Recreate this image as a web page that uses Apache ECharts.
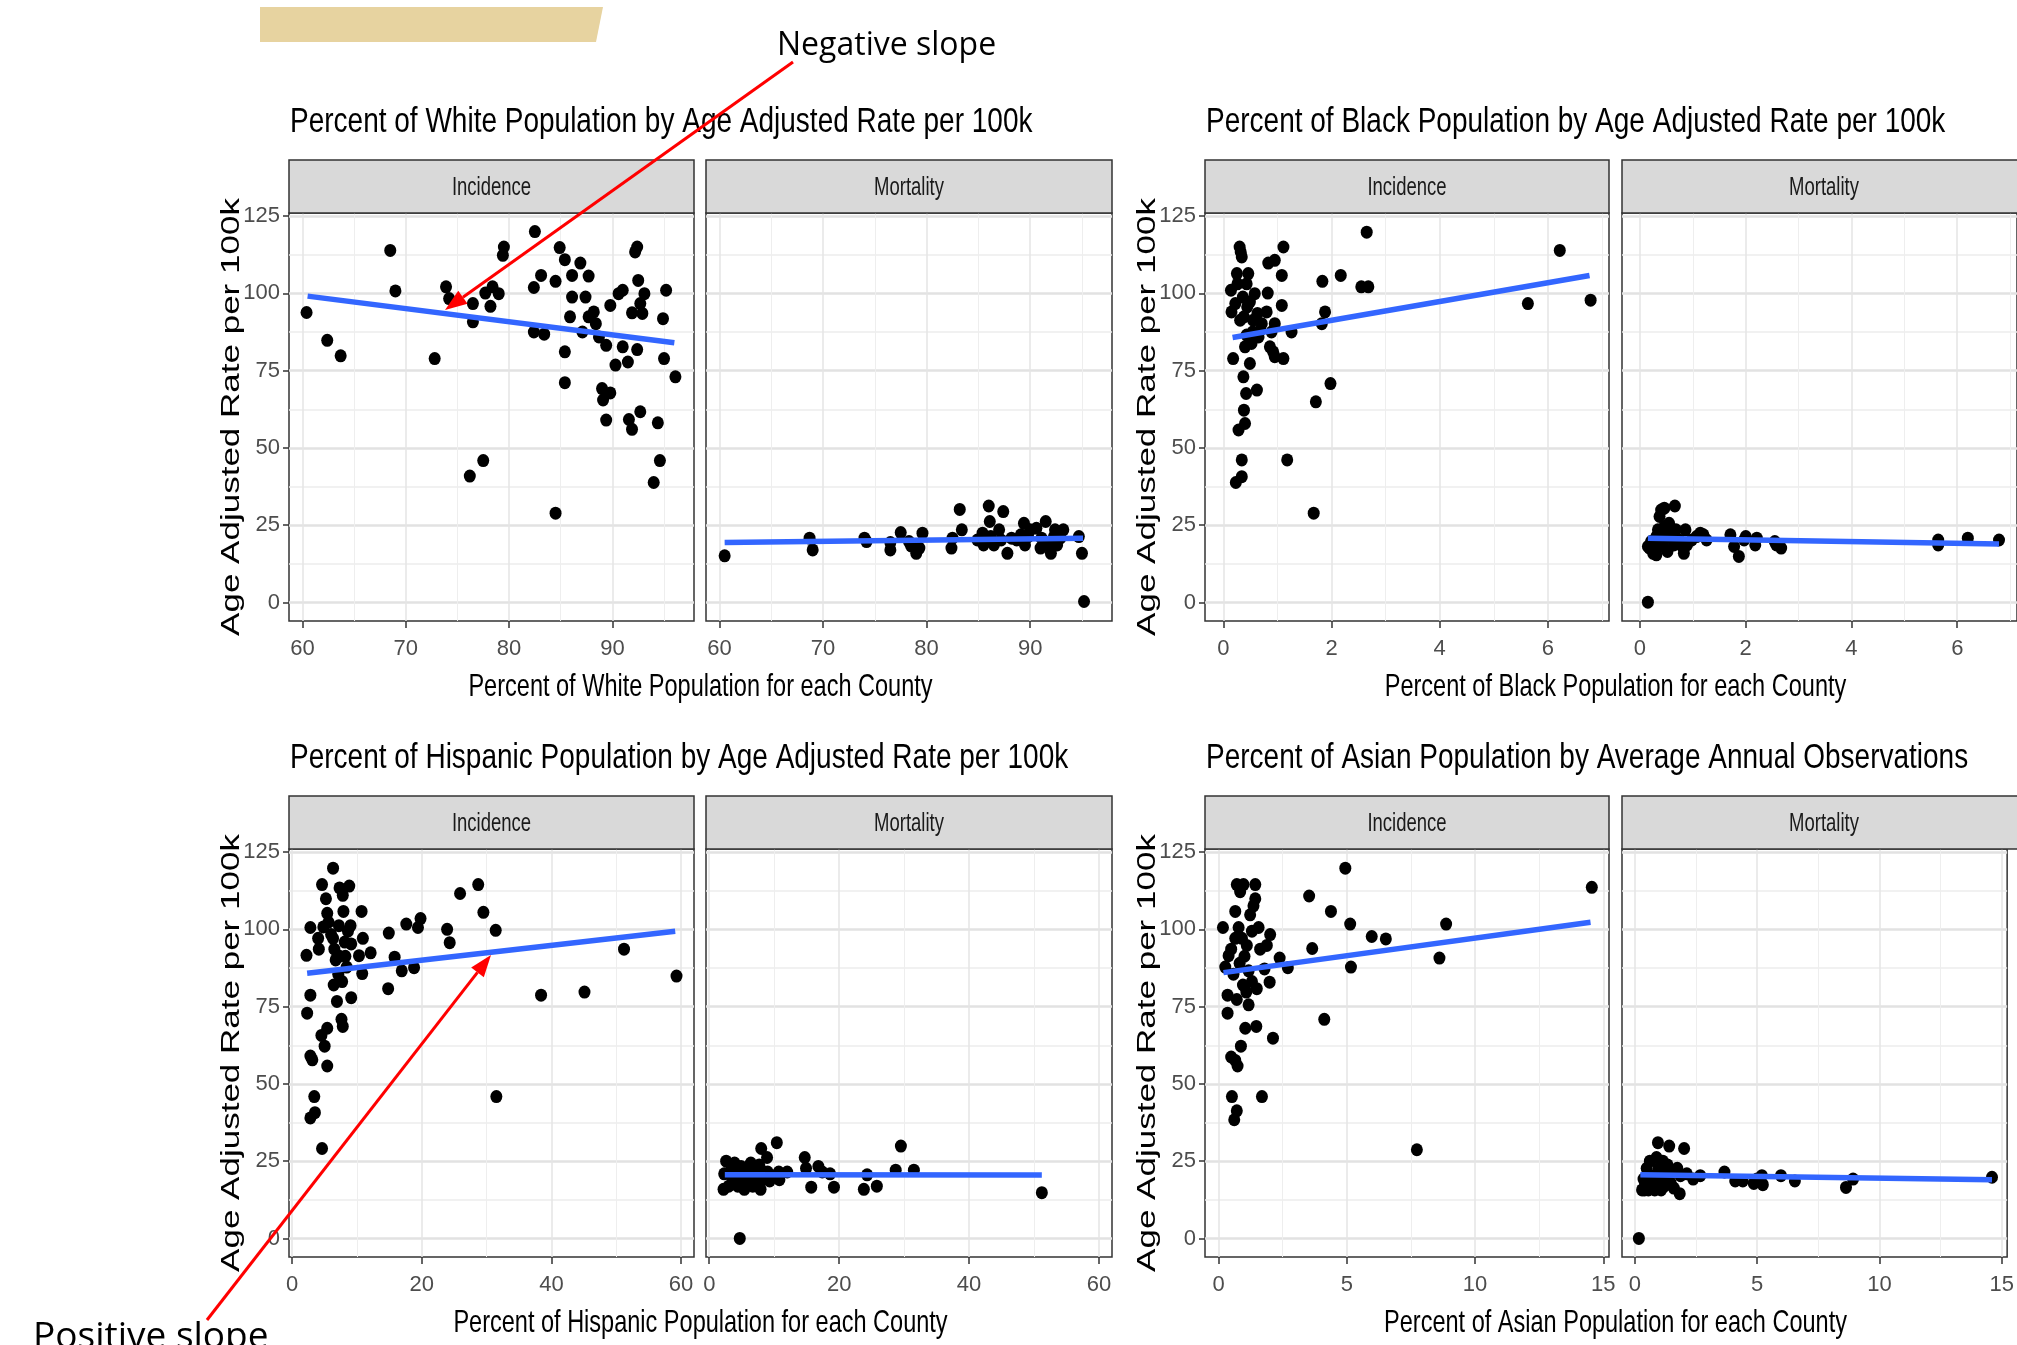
<!DOCTYPE html>
<html>
<head>
<meta charset="utf-8">
<title>Percent of population by age adjusted rate per 100k</title>
<script src="https://cdn.jsdelivr.net/npm/echarts@6.0.0/dist/echarts.min.js"></script>
<style>
  html, body { margin: 0; padding: 0; background: #ffffff; }
  #chart { width: 2017px; height: 1345px; }
</style>
</head>
<body>
<div id="chart"></div>
<script>
// values, [percent of population, age adjusted rate]
const whiteIncidence = [[60.4,93.8],[62.4,84.8],[63.7,79.8],[68.5,113.9],[69.0,100.8],[72.8,78.9],[73.9,102.1],[74.2,98.3],[76.2,40.9],[76.5,96.7],[76.5,90.8],[77.5,45.9],[77.7,100.1],[78.2,95.8],[78.4,102.1],[79.0,99.9],[79.4,112.3],[79.5,115.0],[82.4,101.9],[82.5,120.0],[82.4,87.5],[83.1,105.8],[83.4,86.8],[84.5,103.9],[84.5,28.9],[84.9,114.8],[85.4,110.9],[85.4,81.1],[85.4,71.1],[85.9,92.4],[86.1,98.8],[86.1,105.8],[86.9,109.8],[87.1,87.5],[87.4,98.8],[87.7,105.6],[87.7,92.4],[88.2,94.0],[88.4,90.2],[88.7,85.9],[89.0,69.2],[89.1,65.5],[89.4,83.2],[89.4,59.0],[89.8,96.1],[89.8,67.8],[90.3,76.8],[90.6,99.9],[91.0,101.0],[91.0,82.7],[91.5,77.8],[91.6,59.2],[91.9,56.0],[91.9,93.7],[92.2,113.4],[92.4,115.0],[92.4,81.8],[92.5,104.2],[92.7,96.7],[92.7,61.7],[93.1,99.9],[92.9,93.5],[94.0,38.8],[94.4,58.1],[94.6,45.9],[94.9,91.8],[95.0,78.9],[95.2,101.0],[96.1,73.0]];
const whiteMortality = [[60.5,15.1],[68.7,20.8],[69.0,17.0],[74.0,20.8],[74.2,19.7],[76.5,17.0],[76.5,19.4],[77.5,22.6],[78.3,19.7],[78.5,18.3],[79.0,15.9],[79.3,17.6],[79.6,22.4],[82.4,17.6],[82.5,20.8],[83.2,30.1],[83.4,23.5],[84.9,20.2],[85.4,22.4],[85.5,18.6],[86.0,31.2],[86.1,26.2],[86.2,21.3],[86.5,18.6],[87.0,23.5],[87.2,20.2],[87.4,29.4],[87.8,15.9],[88.2,20.8],[88.7,20.2],[89.1,21.9],[89.4,25.6],[89.5,18.6],[89.8,21.3],[90.0,23.5],[90.6,24.0],[91.0,17.6],[91.1,20.8],[91.5,26.2],[91.8,18.1],[92.0,15.9],[92.3,21.3],[92.4,23.5],[92.6,18.6],[92.9,20.8],[93.2,23.5],[94.7,21.3],[95.0,15.9],[95.2,0.3]];
const blackIncidence = [[0.14,101.0],[0.15,94.0],[0.18,78.9],[0.23,38.8],[0.25,106.4],[0.28,55.8],[0.30,115.0],[0.31,91.3],[0.32,113.4],[0.34,40.7],[0.34,46.1],[0.34,111.8],[0.36,98.8],[0.37,73.0],[0.38,62.2],[0.40,57.9],[0.40,82.7],[0.42,67.6],[0.43,103.1],[0.44,95.6],[0.46,106.4],[0.49,77.3],[0.52,83.8],[0.55,91.3],[0.58,99.9],[0.62,68.7],[0.63,93.5],[0.65,85.9],[0.68,88.1],[0.80,94.0],[0.82,100.1],[0.83,109.8],[0.86,82.7],[0.89,87.5],[0.92,81.1],[0.95,110.7],[0.95,90.2],[0.95,79.5],[1.08,96.1],[1.08,105.8],[1.11,115.0],[1.11,78.9],[1.18,46.1],[1.26,87.5],[1.67,28.9],[1.71,64.9],[1.82,90.2],[1.83,103.9],[1.88,94.0],[1.98,70.8],[2.17,105.8],[2.55,102.1],[2.65,119.8],[2.68,102.1],[5.63,96.7],[6.22,113.9],[6.79,97.8],[0.22,96.7],[0.26,103.1],[0.38,92.4],[0.49,97.2],[0.54,87.5],[0.71,90.2],[0.43,86.5]];
const blackMortality = [[0.15,0.1],[0.15,18.1],[0.21,19.7],[0.25,15.9],[0.31,21.3],[0.34,23.5],[0.37,27.8],[0.40,29.9],[0.43,18.1],[0.46,30.5],[0.46,24.5],[0.49,20.8],[0.52,16.5],[0.55,25.6],[0.58,22.4],[0.64,18.6],[0.66,31.2],[0.68,23.5],[0.74,20.2],[0.83,15.9],[0.86,23.5],[0.89,18.6],[0.98,20.2],[1.07,21.3],[1.14,22.4],[1.20,21.9],[1.26,20.2],[1.71,21.9],[1.78,18.1],[1.87,14.9],[1.97,20.2],[2.00,21.3],[2.18,18.6],[2.21,20.8],[2.55,19.7],[2.58,18.6],[2.67,17.6],[5.64,18.6],[5.64,20.2],[6.20,20.8],[6.79,20.2],[0.18,17.6],[0.28,18.6],[0.40,22.4],[0.61,20.8],[0.80,18.1],[0.31,15.4]];
const hispanicIncidence = [[2.2,91.6],[2.3,72.9],[2.8,39.0],[2.8,100.6],[2.8,78.7],[2.8,59.0],[3.1,57.8],[3.4,45.9],[3.5,40.7],[4.0,97.1],[4.1,93.6],[4.5,65.7],[4.6,29.1],[4.6,114.5],[4.8,100.8],[5.0,62.2],[5.2,109.9],[5.4,105.2],[5.4,68.0],[5.4,55.8],[5.6,102.3],[6.3,119.8],[6.3,97.1],[6.4,82.0],[6.7,90.1],[6.9,76.7],[7.2,101.2],[7.3,113.4],[7.6,70.9],[7.7,83.1],[7.8,111.0],[7.8,68.6],[7.9,105.8],[8.1,95.9],[8.2,91.3],[8.6,99.4],[8.8,114.0],[9.0,101.2],[9.1,77.9],[9.1,95.3],[10.3,91.5],[10.7,105.8],[10.8,85.7],[10.9,97.1],[12.1,92.4],[14.8,80.8],[14.9,98.8],[15.8,91.0],[16.9,86.6],[17.6,101.7],[18.8,87.6],[19.4,100.6],[19.8,103.5],[23.9,100.0],[24.3,95.7],[25.9,111.6],[28.7,114.5],[29.5,105.5],[31.4,99.7],[31.5,45.9],[38.4,78.7],[45.1,79.7],[51.2,93.6],[59.3,84.9],[6.0,98.3],[6.5,93.6],[7.3,91.3],[8.4,87.8],[7.1,85.5]];
const hispanicMortality = [[2.2,15.9],[2.6,25.0],[3.0,16.9],[3.4,22.1],[3.9,24.4],[4.1,20.3],[4.7,0.0],[4.9,23.3],[5.4,15.9],[5.7,19.2],[6.2,22.1],[6.4,24.4],[6.7,16.9],[7.2,20.9],[7.7,23.8],[7.9,15.9],[8.0,29.1],[8.3,19.2],[8.9,26.2],[9.0,21.5],[10.4,31.0],[10.7,21.5],[10.8,19.0],[12.0,21.5],[14.7,26.2],[14.9,22.7],[15.7,16.6],[16.8,23.3],[17.4,21.5],[18.6,20.9],[19.2,16.6],[23.8,15.9],[24.3,20.6],[25.8,16.9],[28.7,22.1],[29.5,29.9],[31.5,22.1],[51.2,14.8],[2.3,20.9],[3.6,19.2],[4.4,16.9],[5.2,20.3],[5.9,18.0],[7.0,18.6],[7.5,18.0],[8.5,21.5],[9.3,18.6]];
const asianIncidence = [[0.17,100.6],[0.35,78.7],[0.35,72.9],[0.39,91.5],[0.49,93.6],[0.49,58.7],[0.52,45.9],[0.61,38.4],[0.65,105.8],[0.65,57.6],[0.71,41.3],[0.71,114.5],[0.74,55.8],[0.71,77.3],[0.78,100.6],[0.84,112.2],[0.87,62.2],[0.91,97.1],[0.95,82.0],[0.97,114.5],[1.01,91.3],[1.04,68.0],[1.08,79.7],[1.17,86.6],[1.23,104.7],[1.30,83.1],[1.36,107.6],[1.43,114.5],[1.43,109.9],[1.47,68.6],[1.49,80.8],[1.56,100.6],[1.69,45.9],[1.79,87.2],[1.88,94.8],[1.99,82.9],[2.01,98.3],[2.12,64.8],[2.38,90.7],[2.70,87.6],[3.53,110.8],[3.65,93.8],[4.12,70.9],[4.38,105.8],[4.94,119.8],[5.13,101.7],[5.16,87.8],[5.97,97.7],[6.52,96.9],[7.73,28.7],[8.61,90.7],[8.87,101.7],[14.55,113.6],[0.26,87.8],[0.58,85.5],[0.82,89.0],[1.10,94.8],[1.30,99.4],[1.62,93.6],[0.65,97.1],[1.17,75.6]];
const asianMortality = [[0.16,0.0],[0.29,15.7],[0.35,19.2],[0.48,22.7],[0.55,15.7],[0.61,25.0],[0.71,20.3],[0.81,15.7],[0.88,26.2],[0.94,31.0],[0.97,22.7],[1.01,18.6],[1.07,15.7],[1.14,25.0],[1.23,20.3],[1.33,23.8],[1.40,29.9],[1.46,18.0],[1.59,16.3],[1.73,22.7],[1.83,14.5],[1.86,20.3],[2.01,29.1],[2.12,20.9],[2.38,19.2],[2.67,20.3],[3.66,21.5],[4.10,18.6],[4.41,18.6],[4.86,17.8],[4.99,19.2],[5.19,20.3],[5.23,17.4],[5.97,20.3],[6.54,18.6],[8.63,16.5],[8.92,19.2],[14.6,19.8],[0.42,17.4],[0.61,20.3],[0.84,18.0],[1.20,16.9],[1.53,21.5],[0.39,15.7]];

// fitted lines, end points
const whiteIncFit = [[60.5,99.1],[96.0,84.0]];
const whiteMortFit = [[60.5,19.4],[95.1,20.8]];
const blackIncFit = [[0.17,85.7],[6.77,105.8]];
const blackMortFit = [[0.15,20.8],[6.79,18.9]];
const hispanicIncFit = [[2.3,85.8],[59.1,99.4]];
const hispanicMortFit = [[2.4,20.6],[51.2,20.5]];
const asianIncFit = [[0.19,86.0],[14.5,102.3]];
const asianMortFit = [[0.22,20.6],[14.6,19.0]];

// axis limits and ticks
const whiteRange = [58.7, 97.9];
const blackRange = [-0.34, 7.13];
const hispanicRange = [-0.5, 62];
const asianRange = [-0.53, 15.22];
const rateRange = [-6, 126];
const whiteTicks = [60, 70, 80, 90];
const whiteMinor = [65, 75, 85, 95];
const blackTicks = [0, 2, 4, 6];
const blackMinor = [1, 3, 5, 7];
const hispanicTicks = [0, 20, 40, 60];
const hispanicMinor = [10, 30, 50];
const asianTicks = [0, 5, 10, 15];
const asianMinor = [2.5, 7.5, 12.5];
const rateTicks = [0, 25, 50, 75, 100, 125];
const rateMinor = [12.5, 37.5, 62.5, 87.5, 112.5];

const facets = ['Incidence', 'Mortality'];
const plotTitles = [
  'Percent of White Population by Age Adjusted Rate per 100k',
  'Percent of Black Population by Age Adjusted Rate per 100k',
  'Percent of Hispanic Population by Age Adjusted Rate per 100k',
  'Percent of Asian Population by Average Annual Observations'
];
const xTitles = [
  'Percent of White Population for each County',
  'Percent of Black Population for each County',
  'Percent of Hispanic Population for each County',
  'Percent of Asian Population for each County'
];
const yTitle = 'Age Adjusted Rate per 100k';

// layout (pixels)
const colLeft = [289, 706, 1205, 1622];
const colWidth = [405, 406, 404, 404];
const rowTop = [213, 849];
const rowHeight = [408, 408];
const stripTop = [160, 796];

const tickFont = "'Liberation Sans Narrow', 'Liberation Sans', Arial, sans-serif";
const textFont = "'Liberation Sans', Arial, sans-serif";

const panels = [
  { row: 0, col: 0, range: whiteRange, ticks: whiteTicks, minor: whiteMinor, pts: whiteIncidence, fit: whiteIncFit },
  { row: 0, col: 1, range: whiteRange, ticks: whiteTicks, minor: whiteMinor, pts: whiteMortality, fit: whiteMortFit },
  { row: 0, col: 2, range: blackRange, ticks: blackTicks, minor: blackMinor, pts: blackIncidence, fit: blackIncFit },
  { row: 0, col: 3, range: blackRange, ticks: blackTicks, minor: blackMinor, pts: blackMortality, fit: blackMortFit },
  { row: 1, col: 0, range: hispanicRange, ticks: hispanicTicks, minor: hispanicMinor, pts: hispanicIncidence, fit: hispanicIncFit },
  { row: 1, col: 1, range: hispanicRange, ticks: hispanicTicks, minor: hispanicMinor, pts: hispanicMortality, fit: hispanicMortFit },
  { row: 1, col: 2, range: asianRange, ticks: asianTicks, minor: asianMinor, pts: asianIncidence, fit: asianIncFit },
  { row: 1, col: 3, range: asianRange, ticks: asianTicks, minor: asianMinor, pts: asianMortality, fit: asianMortFit }
];

const grid = [], xAxis = [], yAxis = [], series = [], graphic = [];
const n = panels.length;

panels.forEach((p, i) => {
  const leftPanel = p.col % 2 === 0;
  grid.push({
    left: colLeft[p.col], top: rowTop[p.row], width: colWidth[p.col], height: rowHeight[p.row],
    show: true, backgroundColor: '#ffffff', borderColor: '#333333', borderWidth: 1.5
  });
  xAxis[i] = {
    gridIndex: i, type: 'value', min: p.range[0], max: p.range[1], position: 'bottom',
    axisLine: { show: false, onZero: false },
    axisTick: { show: true, length: 7, customValues: p.ticks, lineStyle: { color: '#333333', width: 1.5 } },
    axisLabel: { customValues: p.ticks, color: '#4d4d4d', fontSize: 22, fontFamily: tickFont, margin: 17 },
    splitLine: { show: true, lineStyle: { color: '#e4e4e4', width: 1.5 } }
  };
  yAxis[i] = {
    gridIndex: i, type: 'value', min: rateRange[0], max: rateRange[1], position: 'left',
    axisLine: { show: false, onZero: false },
    axisTick: { show: leftPanel, length: 6, customValues: rateTicks, lineStyle: { color: '#333333', width: 1.5 } },
    axisLabel: { show: leftPanel, customValues: rateTicks, color: '#4d4d4d', fontSize: 22, fontFamily: tickFont, margin: 9 },
    splitLine: { show: true, lineStyle: { color: '#e2e2e2', width: 2.5 } }
  };
  // second pair of axes only carries the minor grid lines
  xAxis[n + i] = {
    gridIndex: i, type: 'value', min: p.range[0], max: p.range[1], position: 'bottom',
    axisLine: { show: false, onZero: false },
    axisTick: { show: false, customValues: p.minor },
    axisLabel: { show: false },
    splitLine: { show: true, lineStyle: { color: '#eeeeee', width: 1 } }
  };
  yAxis[n + i] = {
    gridIndex: i, type: 'value', min: rateRange[0], max: rateRange[1], position: 'left',
    axisLine: { show: false, onZero: false },
    axisTick: { show: false, customValues: rateMinor },
    axisLabel: { show: false },
    splitLine: { show: true, lineStyle: { color: '#ededed', width: 1.5 } }
  };
  series.push({
    type: 'scatter', xAxisIndex: i, yAxisIndex: i, data: p.pts,
    symbol: 'circle', symbolSize: [12, 13], itemStyle: { color: '#000000', opacity: 1 }, silent: true, z: 3
  });
  series.push({
    type: 'line', xAxisIndex: i, yAxisIndex: i, data: p.fit,
    symbol: 'none', lineStyle: { color: '#3366ff', width: 5.5 }, silent: true, z: 4
  });

  // facet strip
  graphic.push({
    type: 'rect', z: 5,
    shape: { x: colLeft[p.col], y: stripTop[p.row], width: colWidth[p.col], height: rowTop[p.row] - stripTop[p.row] },
    style: { fill: '#d9d9d9', stroke: '#333333', lineWidth: 1.5 }
  });
  graphic.push({
    type: 'text', z: 6,
    x: colLeft[p.col] + colWidth[p.col] / 2, y: (stripTop[p.row] + rowTop[p.row]) / 2 + 2, scaleX: 0.74,
    style: { text: facets[i % 2], fontSize: 25, fontFamily: textFont, fill: '#1a1a1a', textAlign: 'center', textVerticalAlign: 'middle', align: 'center', verticalAlign: 'middle' }
  });
});

// titles, axis titles
for (let k = 0; k < 4; k++) {
  const row = Math.floor(k / 2), pair = k % 2;
  const left = colLeft[pair * 2];
  const right = colLeft[pair * 2 + 1] + colWidth[pair * 2 + 1];
  graphic.push({
    type: 'text', z: 6, x: left + 1, y: stripTop[row] - 38, scaleX: 0.8,
    style: { text: plotTitles[k], fontSize: 35, fontFamily: textFont, fill: '#000000', textAlign: 'left', textVerticalAlign: 'middle', align: 'left', verticalAlign: 'middle' }
  });
  graphic.push({
    type: 'text', z: 6, x: (left + right) / 2, y: rowTop[row] + rowHeight[row] + 66, scaleX: 0.735,
    style: { text: xTitles[k], fontSize: 32, fontFamily: textFont, fill: '#000000', textAlign: 'center', textVerticalAlign: 'middle', align: 'center', verticalAlign: 'middle' }
  });
  graphic.push({
    type: 'text', z: 6, x: left - 57, y: rowTop[row] + rowHeight[row] / 2, rotation: Math.PI / 2, scaleY: 0.72,
    style: { text: yTitle, fontSize: 35, fontFamily: textFont, fill: '#000000', textAlign: 'center', textVerticalAlign: 'middle', align: 'center', verticalAlign: 'middle' }
  });
}

// header band
graphic.push({
  type: 'polygon', z: 6,
  shape: { points: [[260, 7], [603, 7], [596, 42], [260, 42]] },
  style: { fill: '#e7d3a0' }
});

// annotation arrows
function arrow(from, to) {
  const dx = to[0] - from[0], dy = to[1] - from[1];
  const d = Math.hypot(dx, dy), ux = dx / d, uy = dy / d;
  const len = 22, half = 8;
  const bx = to[0] - ux * len, by = to[1] - uy * len;
  graphic.push({
    type: 'line', z: 20,
    shape: { x1: from[0], y1: from[1], x2: bx, y2: by },
    style: { stroke: '#ff0000', lineWidth: 3 }
  });
  graphic.push({
    type: 'polygon', z: 20,
    shape: { points: [[to[0], to[1]], [bx - uy * half, by + ux * half], [bx + uy * half, by - ux * half]] },
    style: { fill: '#ff0000' }
  });
}
arrow([793, 62], [445, 310]);
arrow([207, 1320], [491, 955]);

graphic.push({
  type: 'text', z: 20, x: 777, y: 46,
  style: { text: 'Negative slope', fontSize: 32, fontFamily: "'Open Sans', sans-serif", fill: '#000000', textAlign: 'left', textVerticalAlign: 'middle', align: 'left', verticalAlign: 'middle' }
});
graphic.push({
  type: 'text', z: 20, x: 33, y: 1337,
  style: { text: 'Positive slope', fontSize: 37, fontFamily: "'Open Sans', sans-serif", fill: '#000000', textAlign: 'left', textVerticalAlign: 'middle', align: 'left', verticalAlign: 'middle' }
});

const chart = echarts.init(document.getElementById('chart'));
chart.setOption({
  animation: false,
  backgroundColor: '#ffffff',
  grid: grid,
  xAxis: xAxis,
  yAxis: yAxis,
  series: series,
  graphic: graphic
});
</script>
</body>
</html>
